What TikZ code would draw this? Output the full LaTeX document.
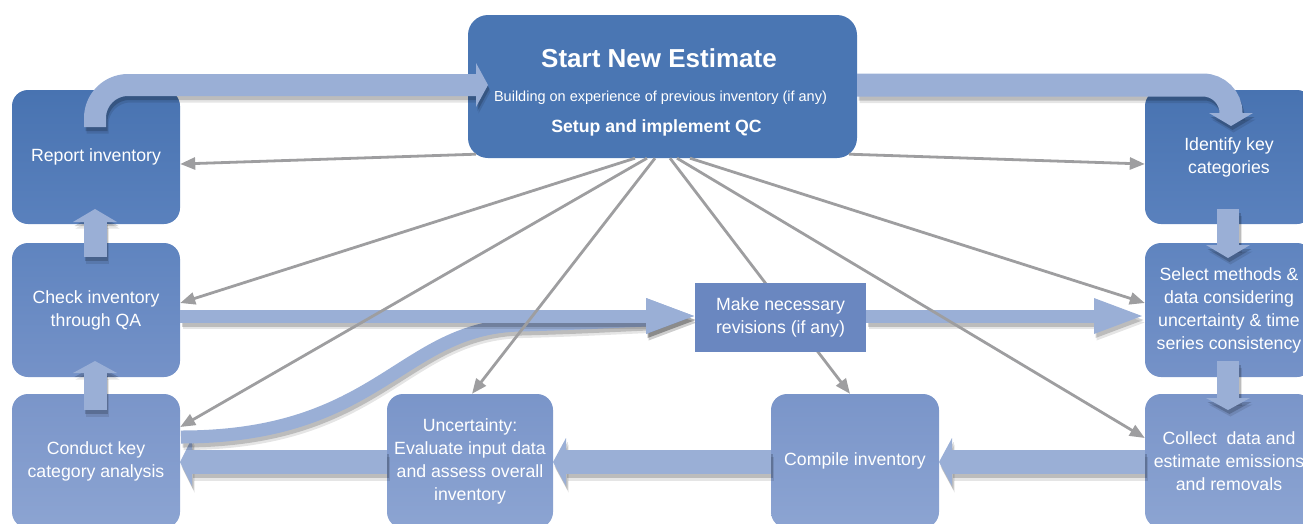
\documentclass[tikz,border=0pt]{standalone}
\usepackage{fontspec}
\setmainfont{Liberation Sans}
\usetikzlibrary{arrows.meta,calc}
\definecolor{rowAt}{HTML}{4873B1}
\definecolor{rowAb}{HTML}{5A81BD}
\definecolor{rowBt}{HTML}{5F84BF}
\definecolor{rowBb}{HTML}{7592C8}
\definecolor{rowCt}{HTML}{7A95C9}
\definecolor{rowCb}{HTML}{8CA4D2}
\definecolor{startc}{HTML}{4A76B3}
\definecolor{makec}{HTML}{6A87C0}
\definecolor{fatc}{HTML}{9AAFD6}
\definecolor{grayc}{HTML}{9E9EA0}
\newcommand\boxfont{\fontsize{17.7pt}{23pt}\selectfont}
\newcommand\fatarrow[3]{%
  \begin{scope}[transform canvas={shift={(2.5,6.5)}}]
    \draw[black,opacity=.10,line width=#1pt] #2;
    \fill[black,opacity=.10] #3;
  \end{scope}
  \begin{scope}[transform canvas={shift={(1.5,4)}}]
    \draw[black,opacity=.18,line width=#1pt] #2;
    \fill[black,opacity=.18] #3;
  \end{scope}
  \draw[fatc,line width=#1pt] #2;
  \fill[fatc] #3;
}
\begin{document}
\begin{tikzpicture}[x=1pt,y=-1pt,
  box/.style={rounded corners=16pt, minimum width=168pt, minimum height=134pt,
    inner sep=0pt, align=center, text=white, font=\boxfont},
  rowA/.style={box, top color=rowAt, bottom color=rowAb},
  rowB/.style={box, top color=rowBt, bottom color=rowBb},
  rowC/.style={box, top color=rowCt, bottom color=rowCb},
  gl/.style={draw=grayc, line width=2.8pt, -{Triangle[length=15pt,width=12pt]}},
  hdr/.style={text=white, anchor=base, inner sep=0pt}]
\useasboundingbox (0,0) rectangle (1303,523);
\clip (0,0) rectangle (1303,523);

% boxes
\node[rowA] (report) at (96,157) {Report inventory};
\node[rowB] (check) at (96,310) {Check inventory\\through QA};
\node[rowC] (conduct) at (96,461) {Conduct key\\category analysis};
\node[rowA] (identify) at (1229,157) {Identify key\\categories};
\node[rowB] (select) at (1229,310) {Select methods \&\\data considering\\uncertainty \& time\\series consistency};
\node[rowC] (collect) at (1229,461) {Collect\ \ data and\\estimate emissions\\and removals};
\node[rowC, minimum width=166pt] (uncert) at (470,461) {Uncertainty:\\Evaluate input data\\and assess overall\\inventory};
\node[rowC] (compile) at (855,461) {Compile inventory};
\node[box, minimum width=389pt, minimum height=143pt, rounded corners=20pt, fill=startc] (start) at (662.5,86.5) {};
\node[hdr, font=\bfseries\fontsize{26pt}{30pt}\selectfont] (t1) at (659,67.7) {Start New Estimate};
\node[hdr, font=\fontsize{14.5pt}{17pt}\selectfont] (t2) at (660.5,101.7) {Building on experience of previous inventory (if any)};
\node[hdr, font=\bfseries\fontsize{17.7pt}{21pt}\selectfont] (t3) at (656.5,132.7) {Setup and implement QC};

% fat arrows
\fatarrow{22}{[rounded corners=33pt] (95,127) -- (95,85) -- (477,85)}{(476,63) -- (488,85) -- (476,107) -- cycle}
\fatarrow{23}{[rounded corners=28pt] (857,85) -- (1231,85) -- (1231,114)}{(1209,113) -- (1253,113) -- (1231,126) -- cycle}
\fatarrow{22}{(1228,209) -- (1228,246)}{(1206,245) -- (1250,245) -- (1228,258) -- cycle}
\fatarrow{22}{(1228,361) -- (1228,399)}{(1206,398) -- (1250,398) -- (1228,410) -- cycle}
\fatarrow{24}{(1145,462) -- (951,462)}{(952,438) -- (952,486) -- (939,462) -- cycle}
\fatarrow{24}{(771,462) -- (565,462)}{(566,438) -- (566,486) -- (553,462) -- cycle}
\fatarrow{24}{(387,462) -- (191,462)}{(192,438) -- (192,486) -- (180,462) -- cycle}
\fatarrow{23}{(95,410) -- (95,372)}{(73,373) -- (117,373) -- (95,361) -- cycle}
\fatarrow{23}{(95,257) -- (95,221)}{(73,222) -- (117,222) -- (95,209) -- cycle}
\fatarrow{13}{(181,437) .. controls (380,437) and (400,328) .. (520,325) .. controls (580,323.5) and (620,321) .. (647,320)}{(646,298) -- (646,334) -- (694,316) -- cycle}
\fatarrow{13}{(180,316) -- (647,316)}{(646,298) -- (646,334) -- (694,316) -- cycle}
\fatarrow{13}{(866,316) -- (1095,316)}{(1094,298) -- (1094,334) -- (1142,316) -- cycle}

% gray connectors
\draw[gl] ([xshift=8pt,yshift=4pt]start.south west) -- ([yshift=-7pt]report.east);
\draw[gl] ([xshift=-8pt,yshift=4pt]start.south east) -- ([yshift=-7pt]identify.west);
\draw[gl] ([xshift=-27.5pt]start.south) -- ([yshift=7pt]check.east);
\draw[gl] ([xshift=-15.5pt]start.south) -- ([yshift=34pt]conduct.east);
\draw[gl] ([xshift=-7.5pt]start.south) -- ([xshift=2pt]uncert.north);
\draw[gl] ([xshift=7.5pt]start.south) -- ([xshift=-5pt]compile.north);
\draw[gl] ([xshift=14.5pt]start.south) -- ([yshift=23pt]collect.west);
\draw[gl] ([xshift=27.5pt]start.south) -- ([yshift=7pt]select.west);

% make box on top
\node[box, rounded corners=0pt, minimum width=171pt, minimum height=69pt, fill=makec] (make) at (780.5,317.5) {Make necessary\\revisions (if any)};
\end{tikzpicture}
\end{document}
